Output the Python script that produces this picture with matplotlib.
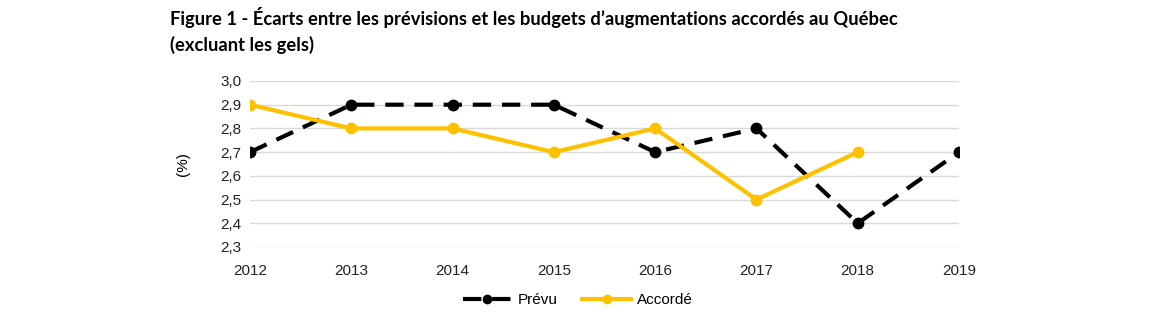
import matplotlib
matplotlib.use("Agg")
import matplotlib.pyplot as plt
import numpy as np

years = ["2012", "2013", "2014", "2015", "2016", "2017", "2018", "2019"]
prevu = [2.7, 2.9, 2.9, 2.9, 2.7, 2.8, 2.4, 2.7]
accorde = [2.9, 2.8, 2.8, 2.7, 2.8, 2.5, 2.7]
yticks = [2.3, 2.4, 2.5, 2.6, 2.7, 2.8, 2.9, 3.0]

fig = plt.figure(figsize=(11.65, 3.25), dpi=100)
ax = fig.add_axes([250/1165, 1-247/325, (959-250)/1165, (247-81)/325])

x = np.arange(len(years))
gold = "#FFC000"
ax.plot(x, prevu, color="black", lw=3, ls=(0, (4.4, 2.6)), marker="o", ms=7.5,
        label="Prévu", zorder=3, dash_capstyle="butt")
ax.plot(x[:len(accorde)], accorde, color=gold, lw=3, marker="o", ms=7.5,
        label="Accordé", zorder=4)

ax.set_xlim(0, len(years)-1)
ax.set_ylim(2.3, 3.0)
ax.set_xticks(x)
ax.set_xticklabels(years)
ax.set_yticks(yticks)
ax.set_yticklabels([f"{v:.1f}".replace(".", ",") for v in yticks])
ax.tick_params(length=0, labelsize=11)
ax.tick_params(axis="y", pad=6)
ax.tick_params(axis="x", pad=12)
for lab in ax.get_xticklabels() + ax.get_yticklabels():
    lab.set_family("Liberation Sans")
    lab.set_color("#222222")
ax.grid(axis="y", color="#d9d9d9", lw=1)
ax.set_axisbelow(True)
for s in ax.spines.values():
    s.set_visible(False)
ax.set_ylabel("(%)", family="Liberation Sans", fontsize=11, labelpad=22)

fig.text(170/1165, 1-18/325, "Figure 1 - Écarts entre les prévisions et les budgets d’augmentations accordés au Québec",
         family="Lato", weight="bold", fontsize=13.2, va="center", ha="left")
fig.text(170/1165, 1-45/325, "(excluant les gels)",
         family="Lato", weight="bold", fontsize=13.2, va="center", ha="left")

leg = fig.legend(loc="center", bbox_to_anchor=(578/1165, 1-300/325), ncol=2, frameon=False,
                 prop={"family": "Liberation Sans", "size": 11}, handlelength=3.2,
                 columnspacing=1.6, handletextpad=0.4, markerscale=0.8)

fig.savefig("out.png", dpi=100)
